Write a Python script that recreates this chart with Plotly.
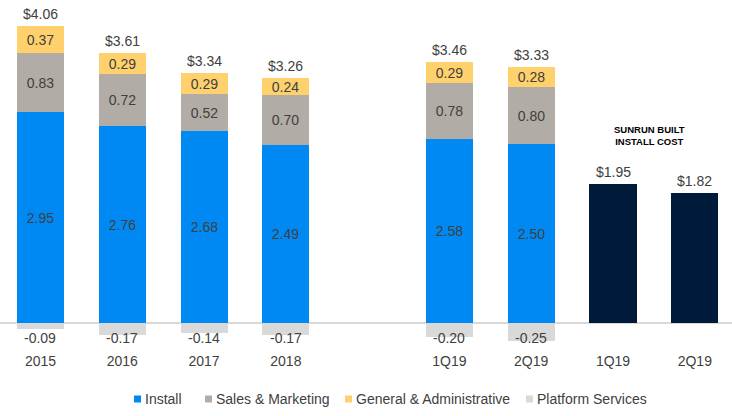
import plotly.graph_objects as go

# ---- data ----
labels = ["2015", "2016", "2017", "2018", "", "1Q19", "2Q19", "1Q19", "2Q19"]
install = [2.95, 2.76, 2.68, 2.49, None, 2.58, 2.50, None, None]
sales_marketing = [0.83, 0.72, 0.52, 0.70, None, 0.78, 0.80, None, None]
general_admin = [0.37, 0.29, 0.29, 0.24, None, 0.29, 0.28, None, None]
platform = [-0.09, -0.17, -0.14, -0.17, None, -0.20, -0.25, None, None]
built_cost = [None, None, None, None, None, None, None, 1.95, 1.82]
totals = [4.06, 3.61, 3.34, 3.26, None, 3.46, 3.33, 1.95, 1.82]

series_names = ["Install", "Sales & Marketing", "General & Administrative", "Platform Services"]

# ---- style ----
C_INSTALL = "#0089F2"
C_SALES = "#B1ACA5"
C_GA = "#FED16D"
C_PLATFORM = "#D9D9D9"
C_BUILT = "#001A3A"
TXT = "#404040"
FONT = "Liberation Sans, Arial, sans-serif"

W, H = 732, 416
M_B = 71
PLOT_H = H - M_B
PX_PER_UNIT = 71.5
ZERO_PX = 323
y_max = ZERO_PX / PX_PER_UNIT
y_min = -(PLOT_H - ZERO_PX) / PX_PER_UNIT

x = list(range(len(labels)))
BW = 0.575

fig = go.Figure()

def seg(vals, color, name, show_text=True):
    fig.add_trace(go.Bar(
        x=x, y=vals, name=name, width=BW,
        marker=dict(color=color, line=dict(width=0)),
        texttemplate="%{y:.2f}" if show_text else None,
        textposition="inside" if show_text else "none",
        insidetextanchor="middle",
        textfont=dict(color=TXT, size=14, family=FONT),
        showlegend=False,
    ))

seg(install, C_INSTALL, series_names[0])
seg(sales_marketing, C_SALES, series_names[1])
seg(general_admin, C_GA, series_names[2])
seg(platform, C_PLATFORM, series_names[3], show_text=False)
seg(built_cost, C_BUILT, "Sunrun Built Install Cost", show_text=False)

annotations = []
# totals above the positive stack
for i in x:
    if totals[i] is None:
        continue
    top = sum(v for v in (install[i], sales_marketing[i], general_admin[i], built_cost[i]) if v)
    annotations.append(dict(x=i, y=top, text=f"${totals[i]:.2f}", showarrow=False,
                            yanchor="middle", yshift=12,
                            font=dict(size=14, color=TXT, family=FONT)))
# platform labels below the zero line
for i in x:
    if platform[i] is None:
        continue
    annotations.append(dict(x=i, y=0, text=f"{platform[i]:.2f}", showarrow=False,
                            yanchor="middle", yshift=-14.5,
                            font=dict(size=14, color=TXT, family=FONT)))
# group title
annotations.append(dict(x=7.45, y=0, text="<b>SUNRUN BUILT<br>INSTALL COST</b>", showarrow=False,
                        yanchor="middle", yshift=188,
                        font=dict(size=9.5, color="#000000", family=FONT)))

# legend (custom, compact markers)
legend_colors = [C_INSTALL, C_SALES, C_GA, C_PLATFORM]
legend_px = [134, 205, 345, 526]
shapes = []
for name, col, px in zip(series_names, legend_colors, legend_px):
    shapes.append(dict(type="rect", xref="paper", yref="paper",
                       xsizemode="pixel", ysizemode="pixel",
                       xanchor=px / W, yanchor=0,
                       x0=0, x1=7, y0=-57.5, y1=-50.5,
                       fillcolor=col, line=dict(width=0)))
    annotations.append(dict(xref="paper", yref="paper", x=(px + 9) / W, y=0,
                            xanchor="left", yanchor="middle", yshift=-54,
                            text=name, showarrow=False,
                            font=dict(size=14, color=TXT, family=FONT)))

fig.update_layout(
    width=W, height=H, autosize=False,
    margin=dict(l=0, r=0, t=0, b=M_B, pad=0),
    paper_bgcolor="white", plot_bgcolor="white",
    barmode="relative", bargap=0,
    uniformtext=dict(minsize=14, mode="show"),
    font=dict(family=FONT, color=TXT, size=14),
    annotations=annotations, shapes=shapes,
    showlegend=False,
    xaxis=dict(range=[-0.495, 8.455], tickvals=x, ticktext=labels,
               showgrid=False, zeroline=False, showline=False,
               ticks="outside", ticklen=3, tickcolor="rgba(0,0,0,0)",
               tickfont=dict(size=14, color=TXT, family=FONT), fixedrange=True),
    yaxis=dict(range=[y_min, y_max], showgrid=False, showticklabels=False,
               zeroline=True, zerolinecolor="#D9D9D9", zerolinewidth=1.5,
               showline=False, ticks="", fixedrange=True),
)

fig.write_html("out.html", config={"displayModeBar": False},
               post_script="document.body.style.margin='0';")
